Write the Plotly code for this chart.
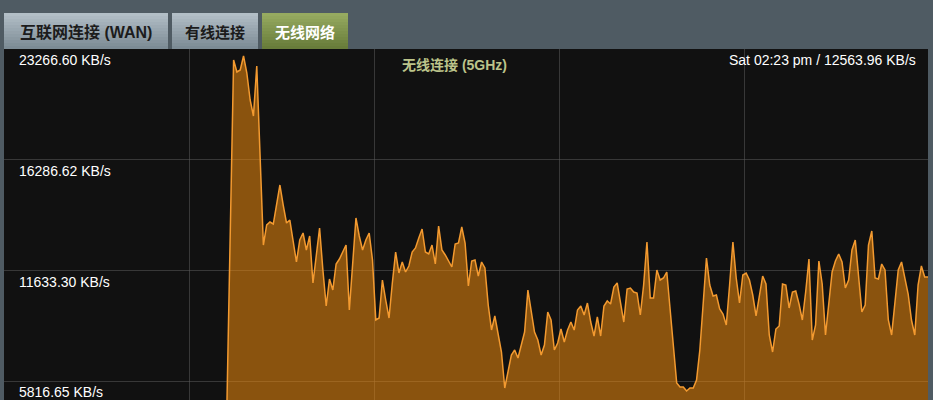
import plotly.graph_objects as go

# ---------------- data ----------------
y_max = 23266.60
y_tick_labels = ["23266.60 KB/s", "16286.62 KB/s", "11633.30 KB/s", "5816.65 KB/s"]
y_tick_fracs = [1.0, 0.75, 0.5, 0.25]
tab_labels = ["互联网连接 (WAN)", "有线连接", "无线网络"]
chart_title = "无线连接 (5GHz)"
status_text = "Sat 02:23 pm / 12563.96 KB/s"

# KB/s samples, oldest -> newest
throughput = [
    4832, 13340, 22689, 22058, 22163, 22899, 22006, 20588, 19748, 22374,
    17962, 12972, 14023, 14180, 14075, 15073, 16124, 15073, 14128, 14285,
    13130, 12080, 13235, 13603, 12710, 13445, 10977, 12447, 13865, 11659,
    9769, 11187, 10609, 11975, 12237, 12605, 12972, 9559, 12185, 14390,
    13445, 12710, 13235, 13603, 12185, 9033, 9138, 11134, 10084, 9138,
    10977, 12605, 11502, 12080, 11554, 11870, 12605, 12815, 13340, 13813,
    12605, 12500, 12972, 11975, 13970, 12710, 12447, 12132, 11817, 13025,
    13077, 13918, 13077, 10819, 12132, 12185, 11344, 12080, 11764, 9821,
    8508, 9244, 8351, 7353, 5462, 6302, 7195, 7458, 7038, 7720,
    8403, 10609, 9559, 8403, 7983, 7195, 7720, 9454, 9033, 7458,
    7825, 8561, 7878, 8508, 8928, 8508, 9559, 9769, 9296, 9926,
    8928, 8193, 9191, 8193, 9769, 10031, 9874, 10767, 10977, 9821,
    8928, 10662, 10714, 10504, 10451, 9296, 10872, 13130, 10189, 10189,
    11659, 11134, 11239, 11554, 9664, 7353, 5725, 5515, 5515, 5305,
    5462, 5462, 5882, 7458, 10084, 12290, 10872, 10294, 10346, 9611,
    9349, 8771, 10872, 13130, 11239, 9926, 11397, 11502, 11134, 10346,
    9244, 10346, 11344, 10924, 8246, 7353, 8561, 8718, 10924, 10872,
    9664, 10504, 10557, 9874, 9033, 10504, 12237, 7983, 8771, 12132,
    10924, 8246, 10084, 11554, 12132, 12500, 12080, 10714, 11134, 12710,
    13235, 11344, 9454, 9821, 12972, 13708, 11239, 11187, 11975, 11659,
    9033, 8246, 9821, 11659, 12080, 11134, 10399, 9033, 8246, 10872,
    11870, 11292, 11292,
]
sample_index = list(range(len(throughput)))

# ---------------- layout geometry (pixels) ----------------
W, H = 933, 400
PL, PR, PT, PB = 4, 928, 49, 400
first_px = 227.0
step_px = (PR - first_px) / (len(throughput) - 1)
x_lo = -(first_px - PL) / step_px
x_hi = len(throughput) - 1
full_h = 443.0  # pixel height of the full 0..y_max scale
y_lo = y_max * (full_h - (PB - PT)) / full_h
grid_x0 = (189 - first_px) / step_px
grid_dx = 185.0 / step_px


def px_x(x):
    return (x - PL) / (PR - PL)


def px_y(y):
    return (PB - y) / (PB - PT)


def mix(c1, c2, t):
    return "rgb(%d,%d,%d)" % tuple(round(a + (b - a) * t) for a, b in zip(c1, c2))


fig = go.Figure()
fig.add_trace(go.Scatter(
    x=sample_index, y=throughput, mode="lines",
    line=dict(color="#f39a30", width=1.5),
    fill="tozeroy", fillcolor="rgba(239,139,12,0.55)",
    hoverinfo="skip", showlegend=False,
))

shapes = []
# tabs (banded gradients)
tab_boxes = [(4, 168), (172, 258), (262, 348)]
tab_cols = [((178, 190, 198), (124, 139, 149)),
            ((178, 190, 198), (124, 139, 149)),
            ((150, 170, 96), (104, 124, 58))]
nb = 12
top, bot = 13, 49
for (x0, x1), (ct, cb) in zip(tab_boxes, tab_cols):
    for k in range(nb):
        y0 = top + (bot - top) * k / nb
        y1 = top + (bot - top) * (k + 1) / nb
        shapes.append(dict(type="rect", xref="paper", yref="paper",
                           x0=px_x(x0), x1=px_x(x1), y0=px_y(y1), y1=px_y(y0),
                           fillcolor=mix(ct, cb, k / (nb - 1)), line=dict(width=0),
                           layer="below"))

annotations = []
tab_text_cols = ["#1c1c1c", "#1c1c1c", "#ffffff"]
tab_font_sizes = [16, 15, 15]
for (x0, x1), lab, col, fs in zip(tab_boxes, tab_labels, tab_text_cols, tab_font_sizes):
    annotations.append(dict(
        text="<b>%s</b>" % lab, xref="paper", yref="paper",
        x=px_x((x0 + x1) / 2), y=px_y(32), xanchor="center", yanchor="middle",
        showarrow=False,
        font=dict(family="Liberation Sans, Noto Sans CJK SC, sans-serif", size=fs, color=col)))

for frac, lab in zip(y_tick_fracs, y_tick_labels):
    annotations.append(dict(
        text=lab, xref="paper", yref="y", x=px_x(17), y=y_max * frac,
        xanchor="left", yanchor="top", yshift=-1, showarrow=False,
        font=dict(family="Liberation Sans, Arial, sans-serif", size=14, color="#ffffff")))

annotations.append(dict(
    text="<b>%s</b>" % chart_title, xref="paper", yref="paper",
    x=px_x(454), y=px_y(65), xanchor="center", yanchor="middle", showarrow=False,
    font=dict(family="Liberation Sans, Noto Sans CJK SC, sans-serif", size=14, color="#bcc48a")))
annotations.append(dict(
    text=status_text, xref="paper", yref="paper",
    x=px_x(918), y=px_y(60), xanchor="right", yanchor="middle", showarrow=False,
    font=dict(family="Liberation Sans, Arial, sans-serif", size=14, color="#ffffff")))

grid_col = "rgba(90,90,90,0.55)"
fig.update_layout(
    width=W, height=H, autosize=False,
    margin=dict(l=PL, r=W - PR, t=PT, b=H - PB, pad=0),
    paper_bgcolor="#4f5b63", plot_bgcolor="#111111",
    shapes=shapes, annotations=annotations,
    xaxis=dict(range=[x_lo, x_hi], showticklabels=False, ticks="",
               showgrid=True, gridcolor=grid_col, gridwidth=1,
               tick0=grid_x0, dtick=grid_dx, zeroline=False, showline=False,
               fixedrange=True),
    yaxis=dict(range=[y_lo, y_max], showticklabels=False, ticks="",
               showgrid=True, gridcolor=grid_col, gridwidth=1,
               tickvals=[y_max * f for f in y_tick_fracs],
               zeroline=False, showline=False, fixedrange=True),
    showlegend=False,
)

fig.write_html(
    "out.html",
    config={"displayModeBar": False},
    post_script="document.body.style.margin='0';document.body.style.overflow='hidden';",
)
